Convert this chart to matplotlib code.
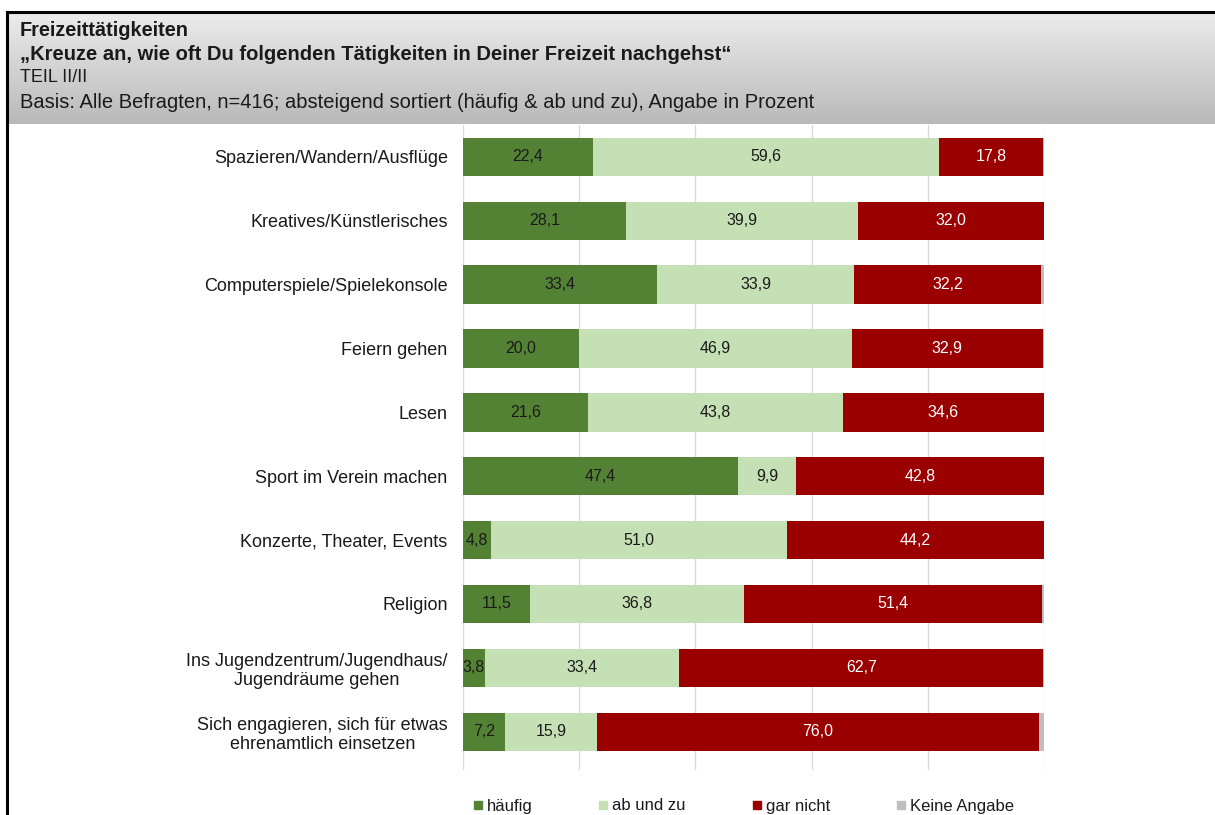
import numpy as np
import matplotlib
matplotlib.use("Agg")
import matplotlib.pyplot as plt
from matplotlib.lines import Line2D
from matplotlib.colors import LinearSegmentedColormap

plt.rcParams['font.family'] = ['Liberation Sans', 'DejaVu Sans']

categories = [
    "Spazieren/Wandern/Ausflüge",
    "Kreatives/Künstlerisches",
    "Computerspiele/Spielekonsole",
    "Feiern gehen",
    "Lesen",
    "Sport im Verein machen",
    "Konzerte, Theater, Events",
    "Religion",
    "Ins Jugendzentrum/Jugendhaus/\nJugendräume gehen",
    "Sich engagieren, sich für etwas\nehrenamtlich einsetzen",
]
haeufig = [22.4, 28.1, 33.4, 20.0, 21.6, 47.4, 4.8, 11.5, 3.8, 7.2]
ab_und_zu = [59.6, 39.9, 33.9, 46.9, 43.8, 9.9, 51.0, 36.8, 33.4, 15.9]
gar_nicht = [17.8, 32.0, 32.2, 32.9, 34.6, 42.8, 44.2, 51.4, 62.7, 76.0]
keine_angabe = [0.2, 0.0, 0.5, 0.2, 0.0, 0.0, 0.0, 0.3, 0.1, 0.9]
series_names = ["häufig", "ab und zu", "gar nicht", "Keine Angabe"]
colors = ["#548235", "#c5e0b4", "#9b0000", "#bfbfbf"]
text_colors = ["#1a1a1a", "#1a1a1a", "white", None]

W, H = 1215, 815
fig = plt.figure(figsize=(W / 100, H / 100), dpi=100)
fig.patch.set_facecolor("white")

# Header gradient box
hx0, hy0, hy1 = 7, 12, 124
hax = fig.add_axes([hx0 / W, 1 - hy1 / H, 1 - hx0 / W, (hy1 - hy0) / H])
grad = np.linspace(0, 1, 256).reshape(-1, 1)
cmap = LinearSegmentedColormap.from_list("g", ["#ececec", "#b9b9b9"])
hax.imshow(grad, aspect="auto", cmap=cmap, extent=[0, 1, 1, 0])
hax.set_xlim(0, 1); hax.set_ylim(1, 0)
hax.axis("off")

# Borders
fig.add_artist(Line2D([hx0 / W, 1], [1 - hy0 / H, 1 - hy0 / H], color="black", lw=2.2, transform=fig.transFigure))
fig.add_artist(Line2D([hx0 / W, hx0 / W], [1 - hy0 / H, 0], color="black", lw=2.2, transform=fig.transFigure))

tx = 20 / W
fig.text(tx, 1 - 31 / H, "Freizeittätigkeiten", fontsize=14.3, fontweight="bold", va="center", color="#1a1a1a")
fig.text(tx, 1 - 54 / H, "„Kreuze an, wie oft Du folgenden Tätigkeiten in Deiner Freizeit nachgehst“", fontsize=14.5, fontweight="bold", va="center", color="#1a1a1a")
fig.text(tx, 1 - 77 / H, "TEIL II/II", fontsize=13, va="center", color="#1a1a1a")
fig.text(tx, 1 - 102 / H, "Basis: Alle Befragten, n=416; absteigend sortiert (häufig & ab und zu), Angabe in Prozent", fontsize=14.5, va="center", color="#1a1a1a")

# Main axes
ax_l, ax_r, ax_t, ax_b = 463, 1044, 125, 770
ax = fig.add_axes([ax_l / W, 1 - ax_b / H, (ax_r - ax_l) / W, (ax_b - ax_t) / H])
y = np.arange(len(categories))
left = np.zeros(len(categories))
data = [haeufig, ab_und_zu, gar_nicht, keine_angabe]
handles = []
for vals, name, col, tcol in zip(data, series_names, colors, text_colors):
    vals = np.array(vals)
    ax.barh(y, vals, left=left, height=0.6, color=col, edgecolor="none", zorder=2, label=name)
    if tcol is not None:
        for yi, (l, v) in enumerate(zip(left, vals)):
            ax.text(l + v / 2, yi, f"{v:.1f}".replace(".", ","), ha="center", va="center",
                    fontsize=11.5, color=tcol, zorder=3)
    left = left + vals
    handles.append(Line2D([], [], marker="s", linestyle="none", markersize=5.5,
                          markerfacecolor=col, markeredgecolor=col, label=name))

ax.set_xlim(0, 100)
ax.set_ylim(9.6, -0.5)
ax.set_xticks([0, 20, 40, 60, 80, 100])
ax.set_xticklabels([])
ax.tick_params(axis="x", length=0)
ax.grid(axis="x", color="#dadada", lw=1, zorder=0)
ax.set_yticks(y)
ax.set_yticklabels(categories, fontsize=13, color="#1a1a1a", ha="right")
ax.tick_params(axis="y", length=0, pad=11)
for lab in ax.get_yticklabels():
    lab.set_multialignment("center")
for s in ax.spines.values():
    s.set_visible(False)
ax.set_facecolor("none")

# Legend entries positioned individually (marker centres as in reference)
marker_x = [478, 603, 757, 901]
for h, mx in zip(handles, marker_x):
    fig.legend(handles=[h], loc="center left", bbox_to_anchor=((mx - 5) / W, 1 - 806 / H),
               frameon=False, fontsize=12, handlelength=0.6, handletextpad=0.25,
               borderpad=0, borderaxespad=0, labelcolor="#1a1a1a")

fig.savefig("out.png", dpi=100, facecolor="white")
